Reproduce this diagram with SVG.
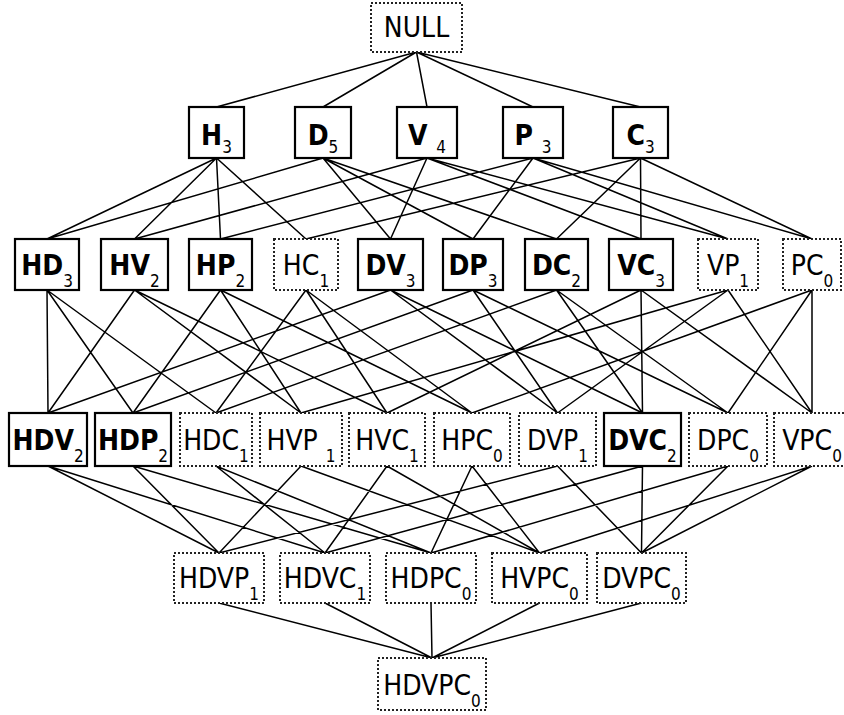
<svg xmlns="http://www.w3.org/2000/svg" width="844" height="715" viewBox="0 0 844 715">
  <style>
    .edge { fill: none; stroke: #000; stroke-width: 1.5; }
    .solid { fill: #fff; stroke: #000; stroke-width: 2.2; }
    .dot { fill: #fff; stroke: #222; stroke-width: 2; stroke-dasharray: 2 2; }
    text { font-family: "DejaVu Sans Condensed", "DejaVu Sans", sans-serif; font-size: 28px; fill: #000; text-anchor: middle; }
    .b { font-weight: bold; }
    .s { font-size: 17px; font-weight: normal; }
  </style>

  <!-- connectors: bottom centre of a node to top centre of each node one level down -->
  <g id="connectors" class="edge">
    <path d="M416.5 52L216.5 107M416.5 52L323 107M416.5 52L427 107M416.5 52L533 107M416.5 52L640.5 107"/>
    <path d="M216.5 158L47 239M216.5 158L134.5 239M216.5 158L220.5 239M216.5 158L306 239
             M323 158L47 239M323 158L390.5 239M323 158L473 239M323 158L556.5 239
             M427 158L134.5 239M427 158L390.5 239M427 158L641 239M427 158L728 239
             M533 158L220.5 239M533 158L473 239M533 158L728 239M533 158L812 239
             M640.5 158L306 239M640.5 158L556.5 239M640.5 158L641 239M640.5 158L812 239"/>
    <path d="M47 290L48 413M47 290L133 413M47 290L216 413
             M134.5 290L48 413M134.5 290L301 413M134.5 290L387 413
             M220.5 290L133 413M220.5 290L301 413M220.5 290L472 413
             M306 290L216 413M306 290L387 413M306 290L472 413
             M390.5 290L48 413M390.5 290L557.5 413M390.5 290L642.5 413
             M473 290L133 413M473 290L557.5 413M473 290L728 413
             M556.5 290L216 413M556.5 290L642.5 413M556.5 290L728 413
             M641 290L387 413M641 290L642.5 413M641 290L812 413
             M728 290L301 413M728 290L557.5 413M728 290L812 413
             M812 290L472 413M812 290L728 413M812 290L812 413"/>
    <path d="M48 466L219 553M133 466L219 553M301 466L219 553M557.5 466L219 553
             M48 466L325 553M216 466L325 553M387 466L325 553M642.5 466L325 553
             M133 466L431 553M216 466L431 553M472 466L431 553M728 466L431 553
             M301 466L539.5 553M387 466L539.5 553M472 466L539.5 553M812 466L539.5 553
             M557.5 466L641.5 553M642.5 466L641.5 553M728 466L641.5 553M812 466L641.5 553"/>
    <path d="M219 603L432 658M325 603L432 658M431 603L432 658M539.5 603L432 658M641.5 603L432 658"/>
  </g>

  <!-- level 0 -->
  <g id="NULL"><rect class="dot" x="371" y="3" width="91" height="49"/><text x="416.5" y="37">NULL</text></g>

  <!-- level 1 -->
  <g id="H"><rect class="solid" x="189" y="107" width="55" height="51"/><text class="b" x="216.5" y="145">H<tspan class="s" dy="8">3</tspan></text></g>
  <g id="D"><rect class="solid" x="295" y="107" width="56" height="51"/><text class="b" x="323" y="145">D<tspan class="s" dy="8">5</tspan></text></g>
  <g id="V"><rect class="solid" x="397" y="107" width="60" height="51"/><text class="b" x="427" y="145">V <tspan class="s" dy="8">4</tspan></text></g>
  <g id="P"><rect class="solid" x="503" y="107" width="60" height="51"/><text class="b" x="533" y="145">P <tspan class="s" dy="8">3</tspan></text></g>
  <g id="C"><rect class="solid" x="613" y="107" width="55" height="51"/><text class="b" x="640.5" y="145">C<tspan class="s" dy="8">3</tspan></text></g>

  <!-- level 2 -->
  <g id="HD"><rect class="solid" x="15" y="239" width="64" height="51"/><text class="b" x="47" y="275">HD<tspan class="s" dy="12">3</tspan></text></g>
  <g id="HV"><rect class="solid" x="101" y="239" width="67" height="51"/><text class="b" x="134.5" y="275">HV<tspan class="s" dy="12">2</tspan></text></g>
  <g id="HP"><rect class="solid" x="189" y="239" width="63" height="51"/><text class="b" x="220.5" y="275">HP<tspan class="s" dy="12">2</tspan></text></g>
  <g id="HC"><rect class="dot" x="274" y="239" width="64" height="51"/><text x="306" y="275">HC<tspan class="s" dy="12">1</tspan></text></g>
  <g id="DV"><rect class="solid" x="358" y="239" width="65" height="51"/><text class="b" x="390.5" y="275">DV<tspan class="s" dy="12">3</tspan></text></g>
  <g id="DP"><rect class="solid" x="443" y="239" width="60" height="51"/><text class="b" x="473" y="275">DP<tspan class="s" dy="12">3</tspan></text></g>
  <g id="DC"><rect class="solid" x="525" y="239" width="63" height="51"/><text class="b" x="556.5" y="275">DC<tspan class="s" dy="12">2</tspan></text></g>
  <g id="VC"><rect class="solid" x="609" y="239" width="64" height="51"/><text class="b" x="641" y="275">VC<tspan class="s" dy="12">3</tspan></text></g>
  <g id="VP"><rect class="dot" x="698" y="239" width="60" height="51"/><text x="728" y="275">VP<tspan class="s" dy="12">1</tspan></text></g>
  <g id="PC"><rect class="dot" x="783" y="239" width="58" height="51"/><text x="812" y="275">PC<tspan class="s" dy="12">0</tspan></text></g>

  <!-- level 3 -->
  <g id="HDV"><rect class="solid" x="9" y="413" width="78" height="53"/><text class="b" x="48" y="450">HDV<tspan class="s" dy="12">2</tspan></text></g>
  <g id="HDP"><rect class="solid" x="95" y="413" width="76" height="53"/><text class="b" x="133" y="450">HDP<tspan class="s" dy="12">2</tspan></text></g>
  <g id="HDC"><rect class="dot" x="180" y="413" width="72" height="53"/><text x="216" y="450">HDC<tspan class="s" dy="12">1</tspan></text></g>
  <g id="HVP"><rect class="dot" x="260" y="413" width="82" height="53"/><text x="301" y="450">HVP <tspan class="s" dy="12">1</tspan></text></g>
  <g id="HVC"><rect class="dot" x="349" y="413" width="76" height="53"/><text x="387" y="450">HVC<tspan class="s" dy="12">1</tspan></text></g>
  <g id="HPC"><rect class="dot" x="434" y="413" width="76" height="53"/><text x="472" y="450">HPC<tspan class="s" dy="12">0</tspan></text></g>
  <g id="DVP"><rect class="dot" x="519" y="413" width="77" height="53"/><text x="557.5" y="450">DVP<tspan class="s" dy="12">1</tspan></text></g>
  <g id="DVC"><rect class="solid" x="604" y="413" width="77" height="53"/><text class="b" x="642.5" y="450">DVC<tspan class="s" dy="12">2</tspan></text></g>
  <g id="DPC"><rect class="dot" x="689" y="413" width="78" height="53"/><text x="728" y="450">DPC<tspan class="s" dy="12">0</tspan></text></g>
  <g id="VPC"><rect class="dot" x="774" y="413" width="76" height="53"/><text x="812" y="450">VPC<tspan class="s" dy="12">0</tspan></text></g>

  <!-- level 4 -->
  <g id="HDVP"><rect class="dot" x="174" y="553" width="90" height="50"/><text x="219" y="588">HDVP<tspan class="s" dy="12">1</tspan></text></g>
  <g id="HDVC"><rect class="dot" x="280" y="553" width="90" height="50"/><text x="325" y="588">HDVC<tspan class="s" dy="12">1</tspan></text></g>
  <g id="HDPC"><rect class="dot" x="386" y="553" width="90" height="50"/><text x="431" y="588">HDPC<tspan class="s" dy="12">0</tspan></text></g>
  <g id="HVPC"><rect class="dot" x="492" y="553" width="95" height="50"/><text x="539.5" y="588">HVPC<tspan class="s" dy="12">0</tspan></text></g>
  <g id="DVPC"><rect class="dot" x="597" y="553" width="89" height="50"/><text x="641.5" y="588">DVPC<tspan class="s" dy="12">0</tspan></text></g>

  <!-- level 5 -->
  <g id="HDVPC"><rect class="dot" x="378" y="658" width="108" height="52"/><text x="432" y="695">HDVPC<tspan class="s" dy="12">0</tspan></text></g>
</svg>
